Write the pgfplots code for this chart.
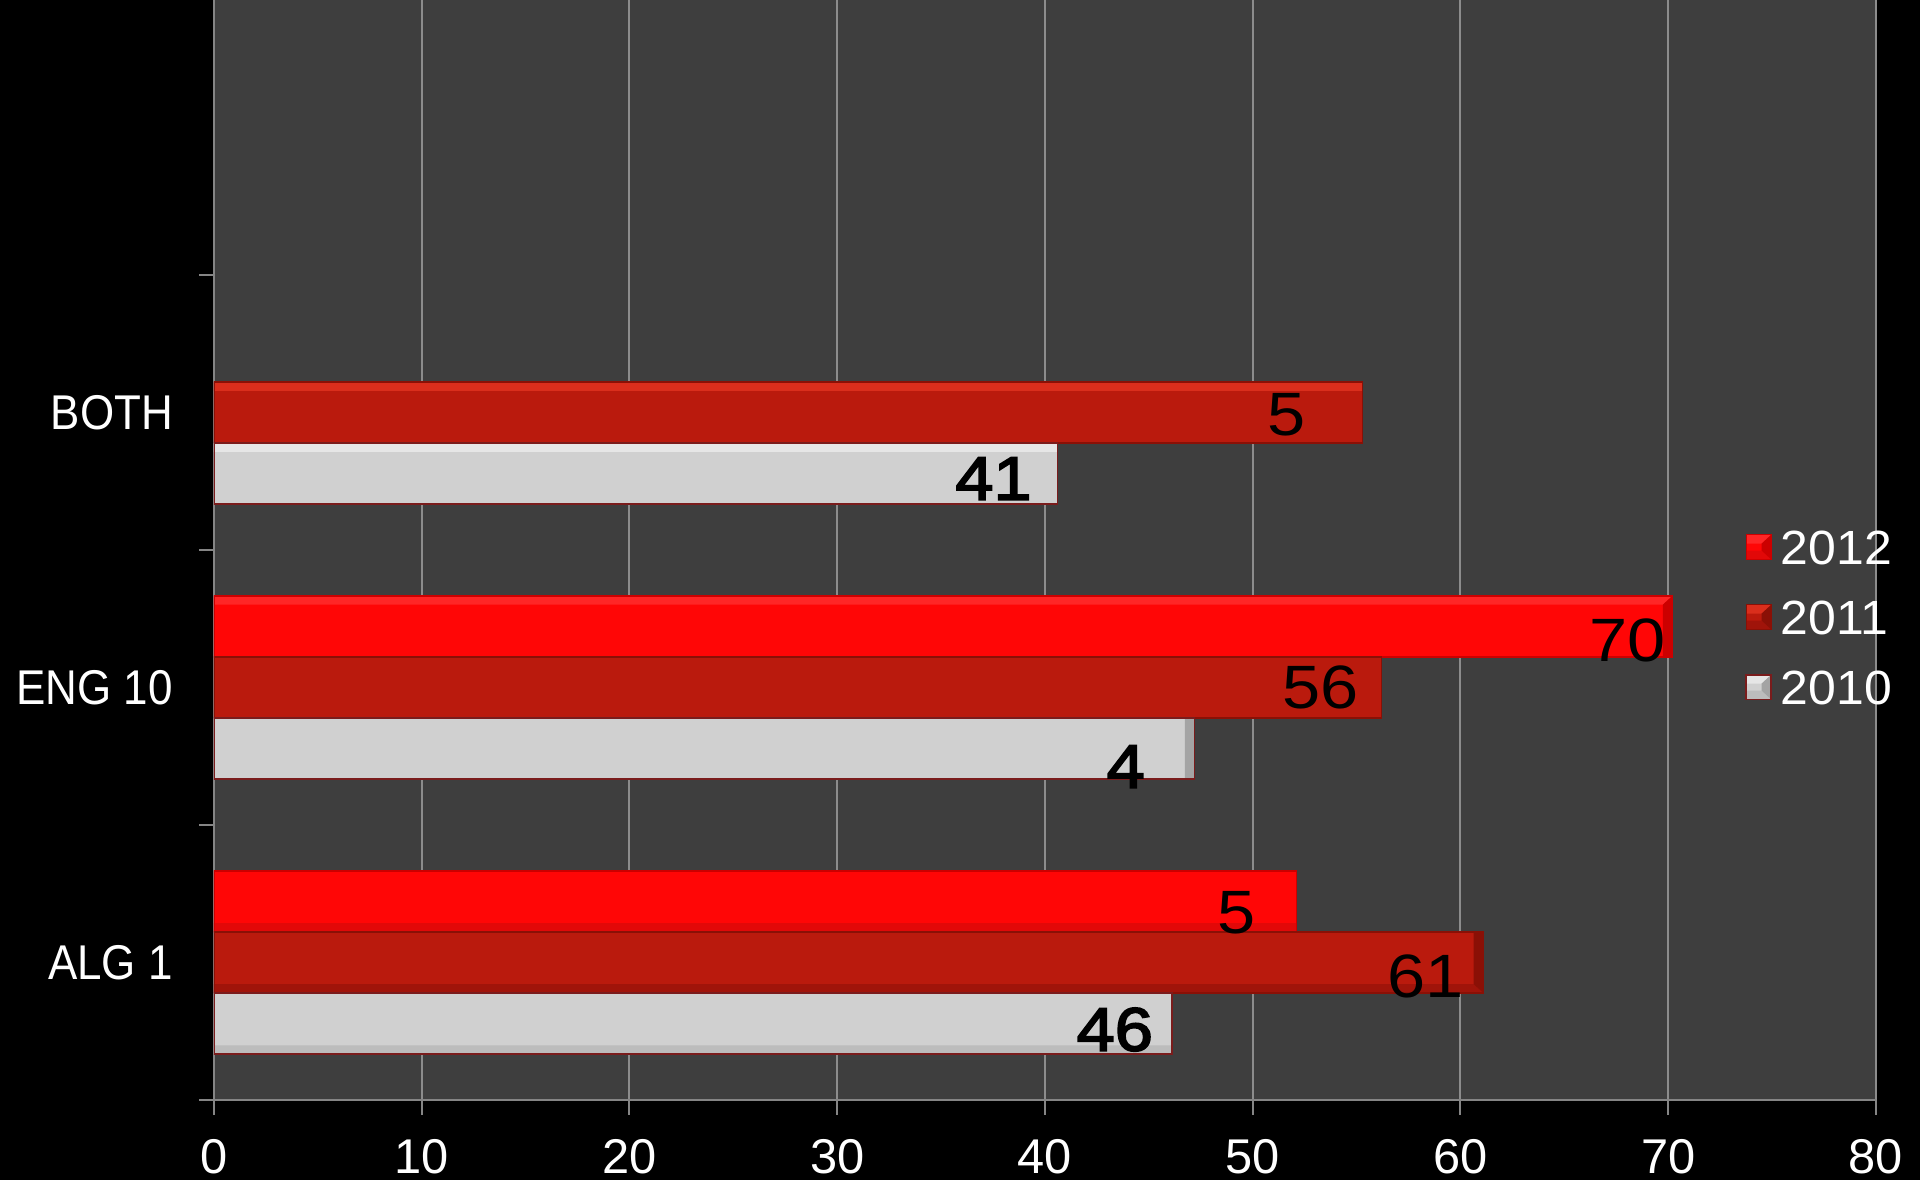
\documentclass[border=0pt]{standalone}
\usepackage{pgfplots}
\pgfplotsset{compat=1.18}
\usepackage{fontspec}
\setmainfont{Liberation Sans}
\newfontfamily\catfont[FakeStretch=0.9]{Liberation Sans}
\newfontfamily\valfont[FakeStretch=1.12]{Liberation Sans}
\newfontfamily\valfontb[FakeStretch=1.12, FakeBold=3]{Liberation Sans}
\newfontfamily\legfont[FakeStretch=1.04]{Liberation Sans}

\definecolor{plotbg}{HTML}{3E3E3E}
\definecolor{gridc}{HTML}{8C8C8C}
\definecolor{axisc}{HTML}{858585}
% 2012
\definecolor{rA}{HTML}{FF0606}
\definecolor{rAtop}{HTML}{FF2626}
\definecolor{rAbot}{HTML}{E20808}
\definecolor{rAend}{HTML}{CC0000}
% 2011
\definecolor{rB}{HTML}{BA1A0D}
\definecolor{rBhi}{HTML}{DA2E1C}
\definecolor{rBbot}{HTML}{A0140A}
\definecolor{rBend}{HTML}{8A1006}
% 2010
\definecolor{gC}{HTML}{D0D0D0}
\definecolor{gCtop}{HTML}{E6E6E6}
\definecolor{gCbot}{HTML}{BCBCBC}
\definecolor{gCend}{HTML}{A4A4A4}
\definecolor{edgeR}{HTML}{7A1C1C}

% bevelled bar ends, drawn with basic-layer paths so that the
% path picture does not call itself
\newcommand\bb[1]{\pgfpointanchor{path picture bounding box}{#1}}
\newcommand\bbs[3]{\pgfpointadd{\bb{#1}}{\pgfpoint{#2}{#3}}}
\newcommand\bevelfill[5]{%
  \pgfsetfillcolor{#1}%
  \pgfpathmoveto{#2}\pgfpathlineto{#3}\pgfpathlineto{#4}\pgfpathlineto{#5}%
  \pgfpathclose\pgfusepath{fill}}
\tikzset{
  bevel/.style n args={3}{path picture={%
    \bevelfill{#1}{\bb{north west}}{\bb{north east}}{\bbs{north east}{-2.4pt}{-2.2pt}}{\bbs{north west}{0pt}{-2.2pt}}%
    \bevelfill{#2}{\bb{south west}}{\bb{south east}}{\bbs{south east}{-2.4pt}{2.2pt}}{\bbs{south west}{0pt}{2.2pt}}%
    \bevelfill{#3}{\bb{north east}}{\bb{south east}}{\bbs{south east}{-2.4pt}{2.2pt}}{\bbs{north east}{-2.4pt}{-2.2pt}}%
  }}
}

\begin{document}
\begin{tikzpicture}
\fill[black] (0,0) rectangle (480pt,295pt);
\useasboundingbox (0,0) rectangle (480pt,295pt);
\begin{axis}[
    at={(53.5pt,20pt)}, anchor=south west,
    scale only axis, width=415.5pt, height=275pt,
    xbar, bar width=0.222,
    xmin=0, xmax=80, ymin=-0.5, ymax=3.5,
    axis background/.style={fill=plotbg},
    axis lines*=left,
    axis line style={draw=axisc, line width=0.5pt},
    xtick={0,10,...,80},
    xmajorgrids, grid style={draw=gridc, line width=0.5pt},
    tick align=outside,
    x tick style={draw=axisc, line width=0.5pt},
    major tick length=3.7pt,
    ytick={0,1,2}, yticklabels={ALG 1,ENG 10,BOTH},
    y tick style={draw=none},
    extra y ticks={-0.5,0.5,1.5,2.5}, extra y tick labels={},
    extra y tick style={y tick style={draw=axisc, line width=0.5pt}},
    ticklabel style={text=white, font=\fontsize{12.2}{14}\selectfont},
    /pgf/number format/assume math mode=true,
    x tick label style={inner sep=0pt, text height=8.75pt, text depth=0pt, yshift=-5.7pt},
    y tick label style={inner sep=0pt, xshift=-6.4pt, font=\catfont\fontsize{12.2}{14}\selectfont},
    point meta=explicit symbolic,
    nodes near coords,
    visualization depends on={value \thisrow{dx} \as \dx},
    visualization depends on={value \thisrow{dy} \as \dy},
    every node near coord/.append style={anchor=east, inner sep=0pt,
        text=black, font=\valfont\fontsize{15.3}{18}\selectfont,
        xshift=\dx pt, yshift=\dy pt},
    legend style={draw=none, fill=none, at={(0.921,0.439)}, anchor=west,
        inner sep=0pt, row sep=7.8pt, text=white,
        font=\legfont\fontsize{12}{14}\selectfont,
        nodes={inner ysep=0.5pt, inner xsep=2.2pt, text height=8.7pt, text depth=0pt}},
    legend cell align=left,
    legend image code/.code={\fill[#1] (0pt,-3.1pt) rectangle (6.25pt,3.1pt);},
]
% 2012
\addplot[fill=rA, draw=rAend, line width=0.3pt, bar shift=0.222,
    bevel={rAtop}{rAbot}{rAend}]
  table[x=x, y=y, meta=lab] {
x    y lab dx     dy
52.1 0 5   -10    -2.9
70.2 1 70  -1.5   -3.5
};
% 2011
\addplot[fill=rB, draw=rBend, line width=0.3pt, bar shift=0,
    bevel={rBhi}{rBbot}{rBend}]
  table[x=x, y=y, meta=lab] {
x    y lab dx     dy
61.1 0 61  -4.75  -3.6
56.2 1 56  -5.5   0
55.3 2 5   -14.25 -0.6
};
% 2010
\addplot[fill=gC, draw=edgeR, line width=0.4pt, bar shift=-0.222,
    bevel={gCtop}{gCbot}{gCend},
    every node near coord/.append style={font=\valfontb\fontsize{15.3}{18}\selectfont}]
  table[x=x, y=y, meta=lab] {
x    y lab dx     dy
46.1 0 46  -4.5   -1.5
47.2 1 4   -12.25 -4.5
40.6 2 41  -6.25  -1.25
};
\legend{2012,2011,2010}
\end{axis}
\end{tikzpicture}
\end{document}
